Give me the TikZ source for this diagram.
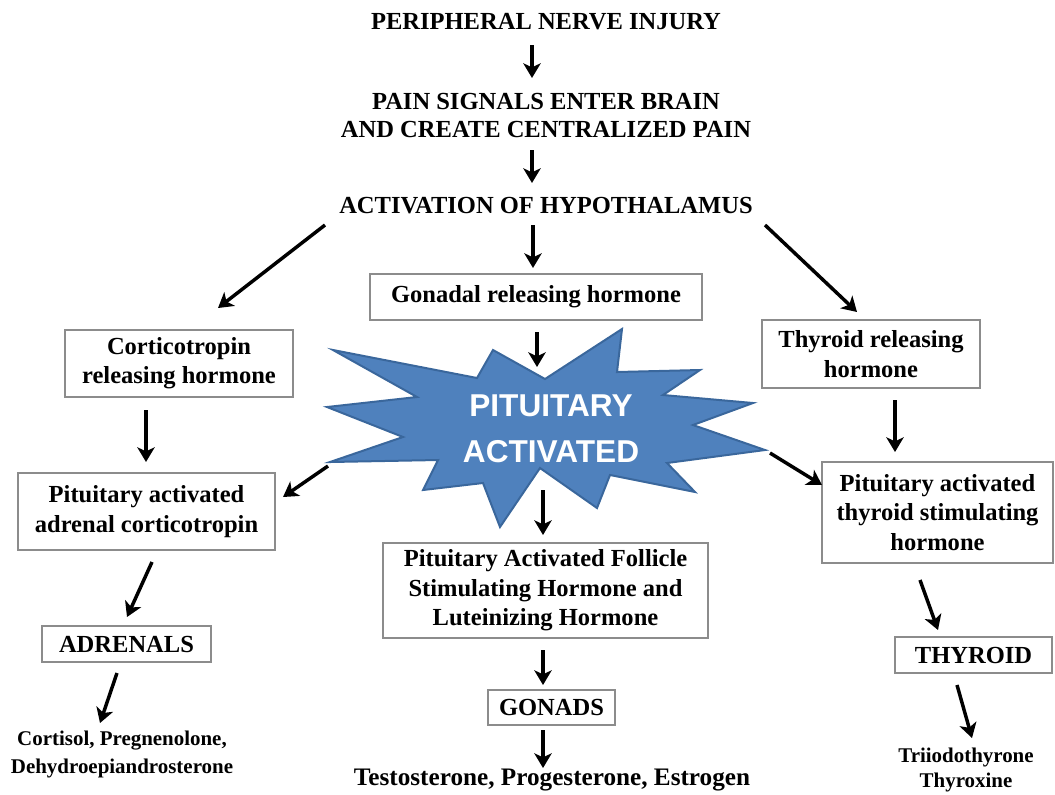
\documentclass[tikz,border=0pt]{standalone}
\usepackage{fontspec}
\setmainfont{Liberation Serif}
\newfontfamily\arialf{Liberation Sans}
\usetikzlibrary{arrows.meta}
\definecolor{boxgray}{HTML}{8C8C8C}
\definecolor{starfill}{HTML}{4F81BD}
\definecolor{stardraw}{HTML}{3A679C}
\begin{document}
\begin{tikzpicture}[x=0.75pt,y=-0.75pt,
  big/.style={align=center,inner sep=0pt,font=\fontsize{18.4}{21}\selectfont\bfseries},
  small/.style={align=center,inner sep=0pt,font=\fontsize{15.7}{21}\selectfont\bfseries},
  boxs/.style={draw=boxgray,line width=1.1pt,align=center,inner sep=0pt,font=\fontsize{18.4}{22}\selectfont\bfseries},
  arr/.style={line width=2.6pt,-{Stealth[length=11pt,width=13pt,inset=3pt]}},
  starshape/.style={fill=starfill,draw=stardraw,line width=1.5pt,line join=miter},
  startext/.style={align=center,inner sep=0pt,text=white,font=\fontsize{23.7}{34.5}\selectfont\arialf\bfseries}]
\useasboundingbox (0,0) rectangle (1055,794);

% star
\draw[starshape] (333,350) -- (477,378) -- (493,350) -- (545,379) -- (622,329) -- (617,372)
  -- (700,370) -- (663,395) -- (753,403) -- (693,425) -- (765,450) -- (667,463) -- (695,492)
  -- (610,475) -- (597,508) -- (540,468) -- (500,527) -- (483,483) -- (423,490) -- (438,460)
  -- (330,462) -- (403,437) -- (327,407) -- (417,397) -- cycle;

% nodes
\node[big] (pni) at (546,22) {PERIPHERAL NERVE INJURY};
\node[big] (pain) at (546,115) {PAIN SIGNALS ENTER BRAIN\\AND CREATE CENTRALIZED PAIN};
\node[big] (hyp) at (546,206) {ACTIVATION OF HYPOTHALAMUS};
\node[boxs,minimum width=249pt,minimum height=34.5pt] (gon) at (536,297) {Gonadal releasing hormone};
\node[boxs,minimum width=171pt,minimum height=50.25pt] (crh) at (179,363.5) {Corticotropin\\releasing hormone};
\node[boxs,minimum width=163.5pt,minimum height=51pt] (trh) at (871,354) {Thyroid releasing\\hormone};
\node[startext] (pit) at (551,429) {PITUITARY\\ACTIVATED};
\node[boxs,minimum width=192.75pt,minimum height=57.75pt] (acth) at (146.5,511.5) {Pituitary activated\\adrenal corticotropin};
\node[boxs,minimum width=173.25pt,minimum height=75.75pt] (tsh) at (937.5,512.5) {Pituitary activated\\thyroid stimulating\\hormone};
\node[boxs,minimum width=243.75pt,minimum height=71.25pt] (fsh) at (545.5,590.5) {Pituitary Activated Follicle\\Stimulating Hormone and\\Luteinizing Hormone};
\node[boxs,minimum width=126.75pt,minimum height=27pt] (adr) at (126.5,644) {ADRENALS};
\node[boxs,minimum width=95.25pt,minimum height=26.25pt] (gonads) at (551.5,707.5) {GONADS};
\node[boxs,minimum width=117.75pt,minimum height=27pt] (thy) at (973.5,655) {THYROID};
\node[small] (cort) at (122,754) {Cortisol, Pregnenolone,\\Dehydroepiandrosterone};
\node[big,font=\fontsize{18.9}{21}\selectfont\bfseries] (testo) at (552,780) {Testosterone, Progesterone, Estrogen};
\node[small,font=\fontsize{15.7}{18.75}\selectfont\bfseries] (tri) at (966,770) {Triiodothyrone\\Thyroxine};

% arrows
\draw[arr] ([shift={(-14,23)}]pni.center) -- ([shift={(-14,-37)}]pain.center);
\draw[arr] ([shift={(-14,35)}]pain.center) -- ([shift={(-14,-23)}]hyp.center);
\draw[arr] ([shift={(-221,19)}]hyp.center) -- ([shift={(39,-55.5)}]crh.center);
\draw[arr] ([shift={(-13,19)}]hyp.center) -- ([shift={(-3,-29)}]gon.center);
\draw[arr] ([shift={(219,19)}]hyp.center) -- ([shift={(-14,-42)}]trh.center);
\draw[arr] ([shift={(1,35)}]gon.center) -- ([shift={(-14,-62)}]pit.center);
\draw[arr] ([shift={(-33,46.5)}]crh.center) -- ([shift={(-0.5,-49.5)}]acth.center);
\draw[arr] ([shift={(24,46)}]trh.center) -- ([shift={(-42.5,-60.5)}]tsh.center);
\draw[arr] ([shift={(-223,37)}]pit.center) -- ([shift={(136.5,-14.5)}]acth.center);
\draw[arr] ([shift={(219,24)}]pit.center) -- ([shift={(-115.5,-27.5)}]tsh.center);
\draw[arr] ([shift={(-8,61)}]pit.center) -- ([shift={(-2.5,-55.5)}]fsh.center);
\draw[arr] ([shift={(5.5,50.5)}]acth.center) -- ([shift={(0.5,-27)}]adr.center);
\draw[arr] ([shift={(-2.5,59.5)}]fsh.center) -- ([shift={(-8.5,-22.5)}]gonads.center);
\draw[arr] ([shift={(-17.5,67.5)}]tsh.center) -- ([shift={(-35.5,-25)}]thy.center);
\draw[arr] ([shift={(-9.5,29)}]adr.center) -- ([shift={(-22,-31)}]cort.center);
\draw[arr] ([shift={(-8.5,22.5)}]gonads.center) -- ([shift={(-9,-12)}]testo.center);
\draw[arr] ([shift={(-16.5,30)}]thy.center) -- ([shift={(6,-32)}]tri.center);
\end{tikzpicture}
\end{document}
